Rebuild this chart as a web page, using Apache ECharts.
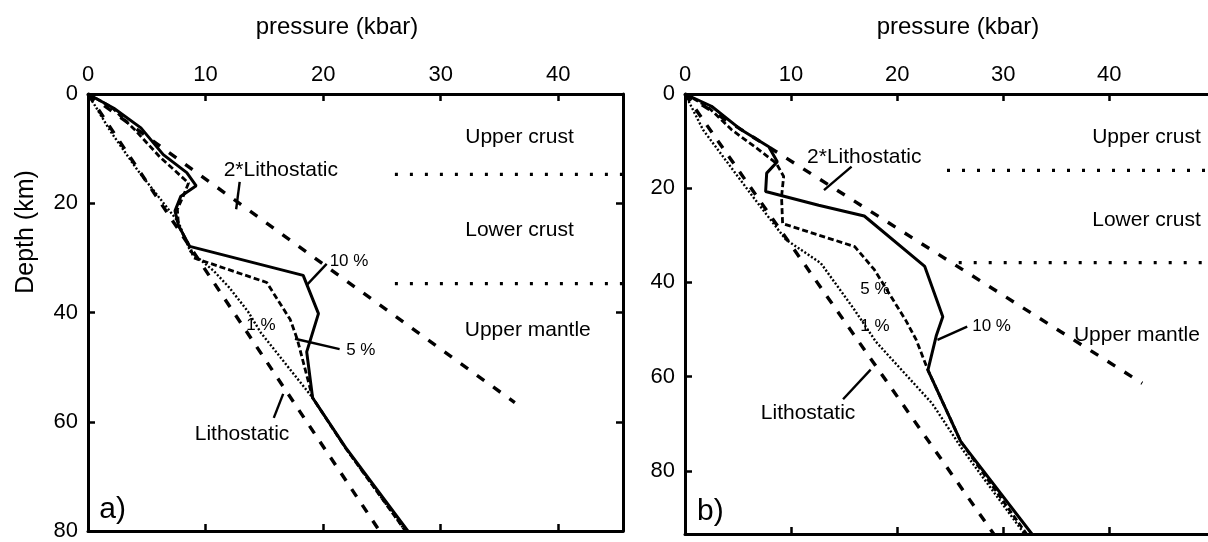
<!DOCTYPE html>
<html>
<head>
<meta charset="utf-8">
<script src="https://cdn.jsdelivr.net/npm/echarts@6/dist/echarts.min.js"></script>
<style>
  html, body { margin: 0; padding: 0; background: #fff; }
  #chart { width: 1208px; height: 542px; }
</style>
</head>
<body>
<div id="chart"></div>
<script>
// pressure (kbar) vs depth (km), panel a) and panel b)
const xTicks = [0, 10, 20, 30, 40];
const depthTicks = [0, 20, 40, 60, 80];

// panel a
const aLitho = [[0, 0], [24.8, 80]];
const aLitho2 = [[0, 0], [36.3, 56.5]];
const a10 = [[0, 0], [2.2, 2.6], [4.5, 6.2], [6.4, 11.1], [8.4, 14.4], [9.2, 16.8], [7.9, 18.7], [7.4, 21.4],
  [7.7, 24.1], [8.65, 27.9], [18.3, 33.2], [19.6, 40.2], [18.6, 47.2], [19.1, 55.6], [21.9, 64.7], [27.2, 80]];
const a5 = [[0, 0], [2.0, 2.4], [4.0, 6.6], [6.1, 11.5], [8.55, 16.3], [8.1, 18.7], [7.6, 21.1], [7.7, 24.1],
  [8.7, 28.2], [9.0, 30.0], [15.2, 34.5], [17.2, 41.3], [17.8, 44.9], [19.1, 55.6], [21.9, 64.8], [27.0, 80]];
const a1 = [[0, 0], [1.9, 6.8], [4.2, 13.9], [6.4, 19.9], [7.7, 23.5], [8.7, 28.8], [10.7, 32.4], [12.0, 35.4],
  [13.6, 39.8], [14.7, 43.7], [19.1, 55.6], [21.9, 64.8], [27.0, 80]];
const aBounds = [[[26.1, 14.7], [45.5, 14.7]], [[26.1, 34.7], [45.5, 34.7]]];
const aLeaders = [
  [[12.9, 16.1], [12.6, 21.1]],
  [[20.3, 31.1], [18.6, 35.0]],
  [[21.4, 46.7], [17.6, 44.8]],
  [[15.8, 59.3], [16.6, 54.9]]
];
const aZones = [[36.7, 8, 'Upper crust'], [36.7, 25, 'Lower crust'], [37.4, 43.2, 'Upper mantle'],
  [16.4, 13.9, '2*Lithostatic'], [13.1, 62.3, 'Lithostatic']];
const aPct = [[22.2, 30.7, '10 %'], [23.2, 46.9, '5 %'], [14.7, 42.3, '1 %']];

// panel b
const bLitho = [[0, 0], [29.1, 93.4]];
const bLitho2 = [[0, 0], [43.1, 61.4]];
const b10 = [[0, 0], [2.5, 2.6], [5.3, 7.6], [7.9, 11.2], [8.7, 14.4], [7.7, 16.8], [7.6, 20.7], [12.6, 23.6],
  [16.9, 25.9], [22.6, 36.6], [24.3, 47.3], [23.7, 51.2], [22.9, 58.6], [26.0, 73.8], [32.7, 93.4]];
const b5 = [[0, 0], [2.1, 2.6], [4.4, 7.6], [7.0, 11.9], [8.6, 14.7], [9.3, 17.5], [9.1, 21.8], [9.2, 27.5],
  [16.0, 32.4], [17.85, 37.3], [20.8, 48.0], [21.8, 52.2], [22.9, 58.6], [26.0, 73.8], [32.2, 93.4]];
const b1 = [[0, 0], [1.7, 7.6], [6.4, 21.8], [9.5, 30.9], [12.8, 35.9], [16.0, 45.9], [18.0, 52.6],
  [23.3, 65.7], [26.2, 75.6], [32.0, 93.4]];
const bBounds = [[[24.7, 16.2], [49.3, 16.2]], [[25.8, 35.8], [49.3, 35.8]]];
const bLeaders = [
  [[15.7, 15.4], [13.1, 20.4]],
  [[26.6, 49.4], [23.8, 52.2]],
  [[14.9, 64.8], [17.5, 58.5]]
];
const bZones = [[43.5, 9.1, 'Upper crust'], [43.5, 26.8, 'Lower crust'], [42.6, 51.2, 'Upper mantle'],
  [16.9, 13.4, '2*Lithostatic'], [11.6, 67.8, 'Lithostatic']];
const bPct = [[28.9, 49.4, '10 %'], [17.9, 41.5, '5 %'], [17.9, 49.4, '1 %']];

const FONT = 'Liberation Sans, Arial, sans-serif';
const chart = echarts.init(document.getElementById('chart'));

function xAxis(grid, max, top) {
  return {
    type: 'value', gridIndex: grid, position: top ? 'top' : 'bottom', min: 0, max: max, interval: 10,
    axisLine: { onZero: false, lineStyle: { color: '#000', width: 3 } },
    axisTick: { inside: true, length: 7, customValues: xTicks, lineStyle: { color: '#000', width: 2.5 } },
    axisLabel: { show: top, margin: 8, customValues: xTicks, color: '#000', fontSize: 22, fontFamily: FONT },
    splitLine: { show: false }
  };
}
function yAxis(grid, max, left, labels) {
  return {
    type: 'value', gridIndex: grid, position: left ? 'left' : 'right', inverse: true, min: 0, max: max, interval: 20,
    axisLine: { onZero: false, lineStyle: { color: '#000', width: 3 } },
    axisTick: { inside: true, length: 7, customValues: depthTicks, lineStyle: { color: '#000', width: 2.5 } },
    axisLabel: { show: labels, margin: 10, customValues: depthTicks, color: '#000', fontSize: 22, fontFamily: FONT },
    splitLine: { show: false }
  };
}

function line(data, xi, yi, width, type) {
  return {
    type: 'line', data: data, xAxisIndex: xi, yAxisIndex: yi, symbol: 'none', silent: true,
    lineStyle: { color: '#000', width: width, type: type || 'solid', cap: 'butt' }
  };
}
function texts(data, xi, yi, size) {
  return {
    type: 'scatter', data: data, xAxisIndex: xi, yAxisIndex: yi, symbolSize: 0, silent: true,
    itemStyle: { color: '#000', opacity: 1 },
    label: {
      show: true, position: 'inside', formatter: p => p.data[2], color: '#000', opacity: 1,
      textBorderWidth: 0, fontSize: size, fontFamily: FONT, align: 'center', verticalAlign: 'middle'
    }
  };
}

const series = [];
function panel(xi, yi, litho, litho2, p10, p5, p1, bounds, leaders, zones, pct, tag, tagPos) {
  series.push(line(litho, xi, yi, 3.4, [9, 10]));
  series.push(line(litho2, xi, yi, 3.4, [9, 11]));
  series.push(line(p1, xi, yi, 2.4, [2, 2]));
  series.push(line(p5, xi, yi, 2.8, [6, 3]));
  series.push(line(p10, xi, yi, 3));
  bounds.forEach(b => series.push(line(b, xi, yi, 3.2, [3, 12])));
  leaders.forEach(l => series.push(line(l, xi, yi, 2.4)));
  series.push(texts(zones, xi, yi, 21));
  series.push(texts(pct, xi, yi, 17));
  series.push(texts([[tagPos[0], tagPos[1], tag]], xi, yi, 30));
}
panel(0, 0, aLitho, aLitho2, a10, a5, a1, aBounds, aLeaders, aZones, aPct, 'a)', [2.1, 76.1]);
panel(2, 2, bLitho, bLitho2, b10, b5, b1, bBounds, bLeaders, bZones, bPct, 'b)', [2.4, 88.7]);

chart.setOption({
  animation: false,
  backgroundColor: '#fff',
  grid: [
    { left: 88, top: 94, width: 535, height: 440 },
    { left: 685, top: 94, width: 523, height: 440 }
  ],
  xAxis: [xAxis(0, 45.5, true), xAxis(0, 45.5, false), xAxis(1, 49.3, true), xAxis(1, 49.3, false)],
  yAxis: [yAxis(0, 80, true, true), yAxis(0, 80, false, false), yAxis(1, 93.4, true, true)],
  graphic: [
    { type: 'text', x: 337, y: 27, style: { text: 'pressure (kbar)', font: '24px ' + FONT, fill: '#000', align: 'center', verticalAlign: 'middle' } },
    { type: 'text', x: 958, y: 27, style: { text: 'pressure (kbar)', font: '24px ' + FONT, fill: '#000', align: 'center', verticalAlign: 'middle' } },
    { type: 'text', x: 26, y: 232, rotation: Math.PI / 2, style: { text: 'Depth (km)', font: '25px ' + FONT, fill: '#000', align: 'center', verticalAlign: 'middle' } }
  ],
  series: series
});
</script>
</body>
</html>
